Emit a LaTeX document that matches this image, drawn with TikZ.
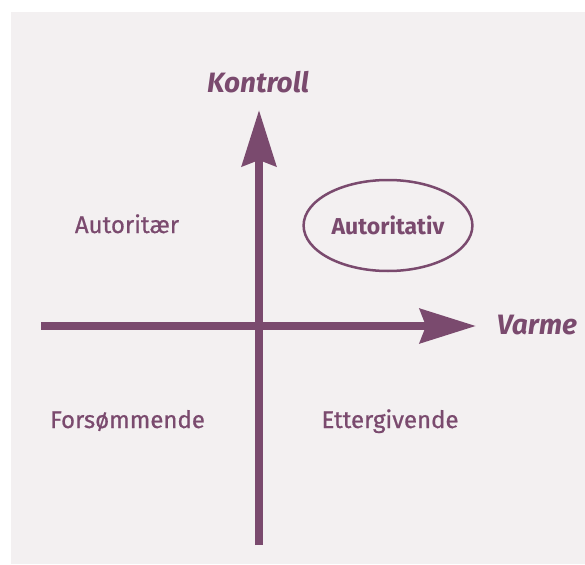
\documentclass[tikz,border=0pt]{standalone}
\usepackage{fontspec}
\setmainfont{Fira Sans}
\newfontfamily\firamedium{Fira Sans}[FakeBold=0.7]
\usetikzlibrary{arrows.meta,shapes.geometric}
\definecolor{plum}{HTML}{7A4A6E}
\definecolor{paper}{HTML}{F3F0F1}
\begin{document}
\begin{tikzpicture}[x=1pt,y=-1pt]
   \tikzstyle{axis}=[plum, line width=8pt, -{Stealth[length=56pt,width=34pt,inset=6pt]}]
   \tikzstyle{quadrant}=[text=plum, anchor=base, font=\fontsize{24}{28}\firamedium]
   \tikzstyle{axis label}=[text=plum, anchor=base, font=\fontsize{28}{32}\selectfont\bfseries\itshape]

\useasboundingbox (0,0) rectangle (585,564);
\fill[paper] (11,12) rectangle (585,564);

\coordinate (south) at (259,545);
\coordinate (north) at (259,110);
\coordinate (west) at (41,326);
\coordinate (east) at (476,326);
\draw[axis] (west) -- (east);
\draw[axis] (south) -- (north);

\node[axis label] (kontroll) at (258,93) {Kontroll};
\node[axis label] (varme) at (537,334) {Varme};

\node[quadrant] (autoritaer) at (127,233) {Autoritær};
\node[draw=plum, line width=2.5pt, ellipse, minimum width=168pt, minimum height=91pt,
      text=plum, font=\fontsize{23}{27}\selectfont\bfseries] (autoritativ) at (388,225.5) {Autoritativ};
\node[quadrant] (forsommende) at (127.5,428) {Forsømmende};
\node[quadrant] (ettergivende) at (390,428) {Ettergivende};

\end{tikzpicture}
\end{document}
